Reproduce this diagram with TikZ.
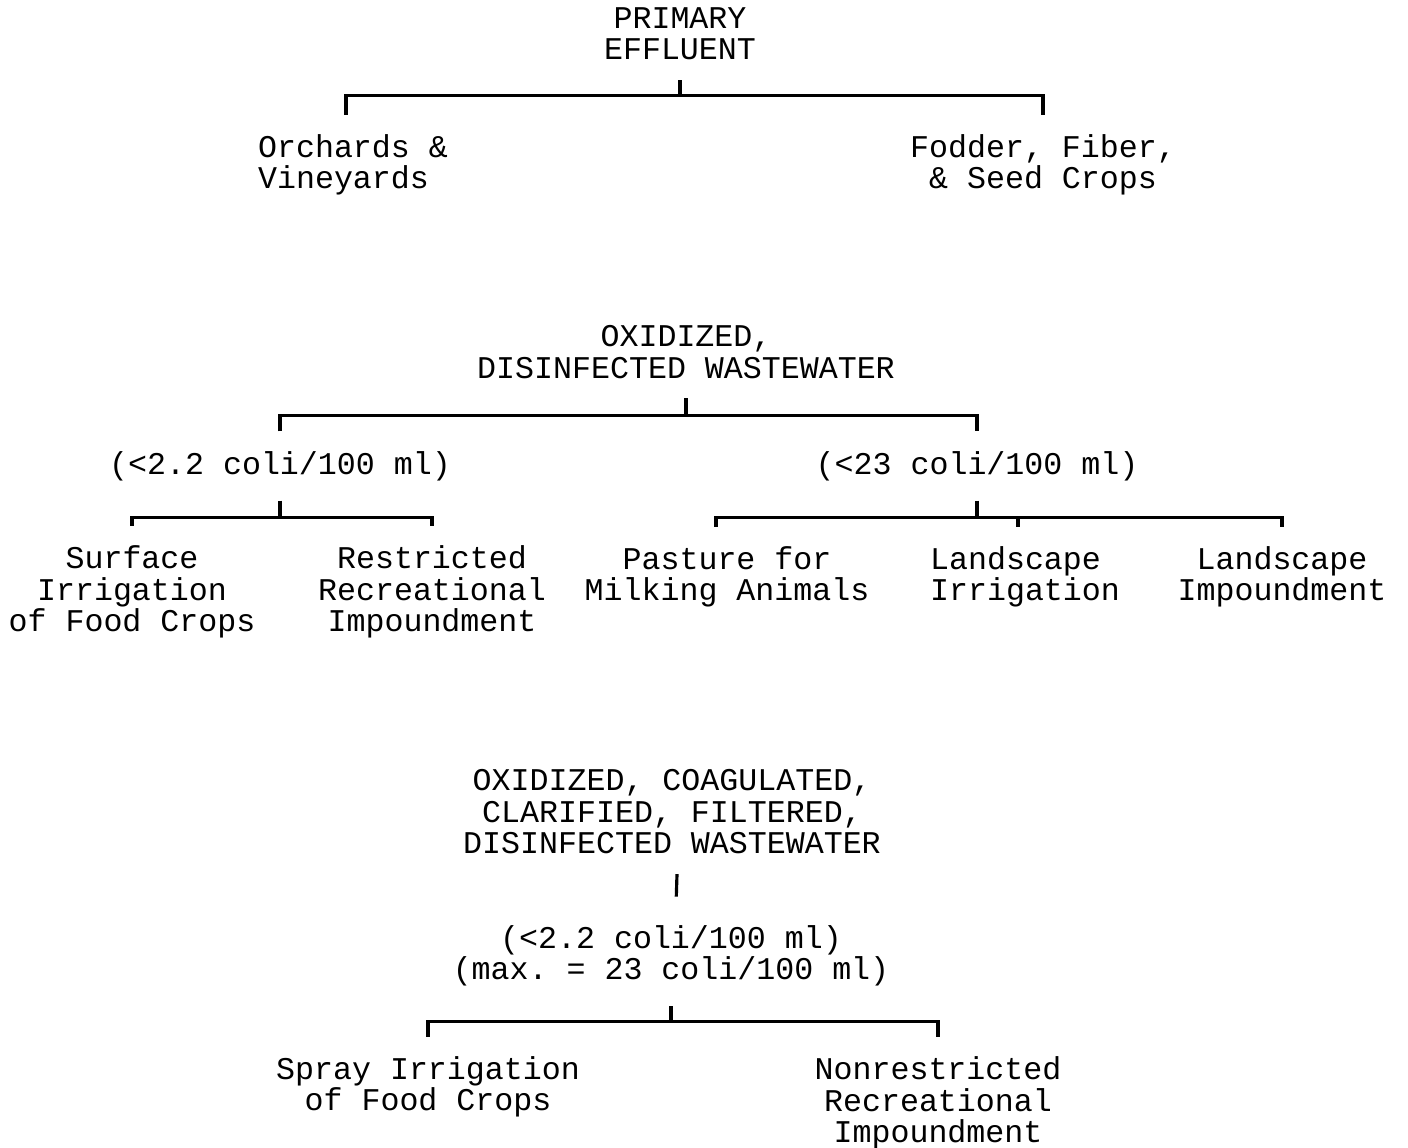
\documentclass[tikz,border=0pt]{standalone}
\usepackage{fontspec}
\setmonofont{Liberation Mono}

\begin{document}
\begin{tikzpicture}[
        x=0.02cm, y=-0.02cm,
        line width=1.8pt,
        every node/.style = {
        align=center, inner sep=0pt, outer sep=0.4cm,
        font=\ttfamily\fontsize{18}{17.9}\selectfont
        }
        ]
        \useasboundingbox (0,0) rectangle (1408,1147);

        % primary effluent
        \node (pe) at (680,34) {PRIMARY\\EFFLUENT};
        \node[align=left] (orch) at (353,165) {Orchards \&\\Vineyards};
        \node (fodd) at (1043,165) {Fodder, Fiber,\\\& Seed Crops};

        \draw (pe.south) -- ++(0,15) coordinate (pe-j);
        \draw ([xshift=-0.14cm]orch.north) |- (pe-j) -| (fodd.north);

        % oxidized, disinfected
        \node (odw) at (686,352) {OXIDIZED,\\DISINFECTED WASTEWATER};
        \node (c22) at (280,466) {(<2.2 coli/100 ml)};
        \node (c23) at (977,466) {(<23 coli/100 ml)};
        \node (surf) at (132,592) {Surface\\Irrigation\\of Food Crops};
        \node (restr) at (432,592) {Restricted\\Recreational\\Impoundment};
        \node (past) at (727,577) {Pasture for\\Milking Animals};
        \node[align=left] (lirr) at (1025,577) {Landscape\\Irrigation};
        \node (limp) at (1282,577) {Landscape\\Impoundment};

        \draw (odw.south) -- ++(0,17) coordinate (odw-j);
        \draw (c22.north) |- (odw-j) -| (c23.north);
        \draw (c22.south) -- ++(0,17) coordinate (c22-j);
        \draw (surf.north) |- (c22-j) -| (restr.north);
        \draw (c23.south) -- ++(0,17) coordinate (c23-j);
        \draw ([xshift=-0.22cm]past.north) |- (c23-j) -| (limp.north);
        \draw ([xshift=-0.14cm]lirr.north) -- ([xshift=-0.14cm]lirr.north |- c23-j);

        % oxidized, coagulated, clarified, filtered
        \node (ocw) at (672,812) {OXIDIZED, COAGULATED,\\CLARIFIED, FILTERED,\\DISINFECTED WASTEWATER};
        \node (c22m) at (671,956) {(<2.2 coli/100 ml)\\(max. = 23 coli/100 ml)};
        \node (spray) at (428,1087) {Spray Irrigation\\of Food Crops};
        \node (nonr) at (938,1103) {Nonrestricted\\Recreational\\Impoundment};

        \draw[shorten >=0.18cm] ([xshift=0.1cm]ocw.south) -- ([xshift=0.1cm]c22m.north);
        \draw (c22m.south) -- ++(0,15) coordinate (c22m-j);
        \draw (spray.north) |- (c22m-j) -| (nonr.north);
    \end{tikzpicture}
\end{document}
